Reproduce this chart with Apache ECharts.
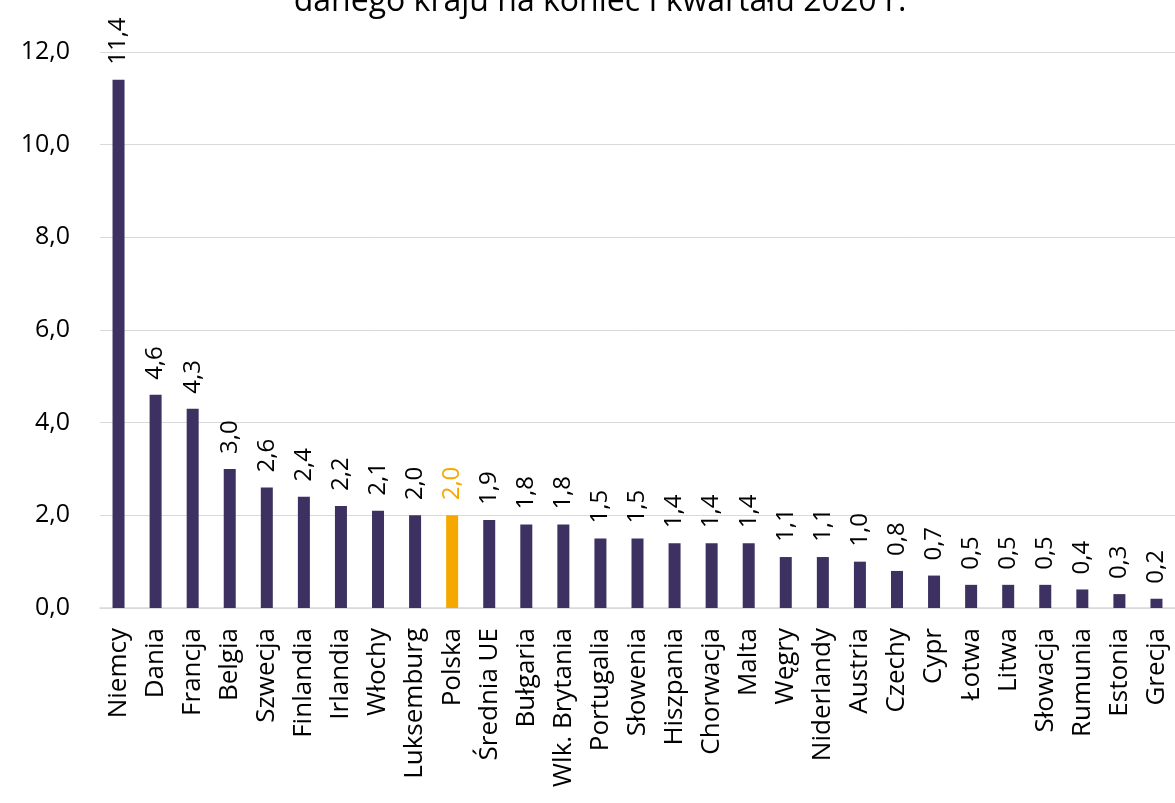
<!DOCTYPE html>
<html>
<head>
<meta charset="utf-8">
<script src="https://cdn.jsdelivr.net/npm/echarts@6/dist/echarts.min.js"></script>
<style>
  html, body { margin: 0; padding: 0; background: #fff; }
  #chart { width: 1175px; height: 803px; }
</style>
</head>
<body>
<div id="chart"></div>
<script>
  var kraje = ['Niemcy', 'Dania', 'Francja', 'Belgia', 'Szwecja', 'Finlandia', 'Irlandia', 'Włochy',
    'Luksemburg', 'Polska', 'Średnia UE', 'Bułgaria', 'Wlk. Brytania', 'Portugalia', 'Słowenia',
    'Hiszpania', 'Chorwacja', 'Malta', 'Węgry', 'Niderlandy', 'Austria', 'Czechy', 'Cypr',
    'Łotwa', 'Litwa', 'Słowacja', 'Rumunia', 'Estonia', 'Grecja'];
  var wartosci = [11.4, 4.6, 4.3, 3.0, 2.6, 2.4, 2.2, 2.1, 2.0, 2.0, 1.9, 1.8, 1.8, 1.5, 1.5,
    1.4, 1.4, 1.4, 1.1, 1.1, 1.0, 0.8, 0.7, 0.5, 0.5, 0.5, 0.4, 0.3, 0.2];
  var osY = [0, 2, 4, 6, 8, 10, 12];
  var wyrozniony = 'Polska';

  var fiolet = '#3c3160';
  var pomarancz = '#f5a800';
  var font = 'Open Sans';

  function przecinek(v) {
    return v.toFixed(1).replace('.', ',');
  }

  var dane = wartosci.map(function(v, i) {
    var pl = kraje[i] === wyrozniony;
    return {
      value: v,
      itemStyle: { color: pl ? pomarancz : fiolet },
      label: { color: pl ? pomarancz : '#000' }
    };
  });

  var myChart = echarts.init(document.getElementById('chart'));
  var option = {
    animation: false,
    title: {
      // gorna czesc tytulu jest poza kadrem
      text: 'danego kraju na koniec I kwartału 2020 r.',
      left: 595,
      textAlign: 'center',
      top: -19,
      textStyle: { fontFamily: font, fontSize: 32, fontWeight: 'normal', color: '#000' }
    },
    grid: { left: 100, top: 52, width: 1078, bottom: 195, containLabel: false },
    xAxis: {
      type: 'category',
      data: kraje,
      axisLine: { lineStyle: { color: '#d9d9d9', width: 1.5 } },
      axisTick: { show: false },
      axisLabel: {
        interval: 0,
        rotate: 90,
        margin: 20,
        color: '#000',
        fontFamily: font,
        fontSize: 26
      }
    },
    yAxis: {
      type: 'value',
      min: osY[0],
      max: osY[osY.length - 1],
      interval: 2,
      axisLine: { show: false },
      axisTick: { show: false },
      splitLine: { lineStyle: { color: '#d9d9d9', width: 1 } },
      axisLabel: {
        margin: 30,
        color: '#000',
        fontFamily: font,
        fontSize: 25,
        formatter: function(v) { return przecinek(v); }
      }
    },
    series: [{
      type: 'bar',
      data: dane,
      barWidth: 12,
      label: {
        show: true,
        position: 'top',
        rotate: 90,
        align: 'left',
        verticalAlign: 'middle',
        distance: 15,
        fontFamily: font,
        fontSize: 24,
        formatter: function(p) { return przecinek(p.value); }
      }
    }]
  };
  myChart.setOption(option);
</script>
</body>
</html>
